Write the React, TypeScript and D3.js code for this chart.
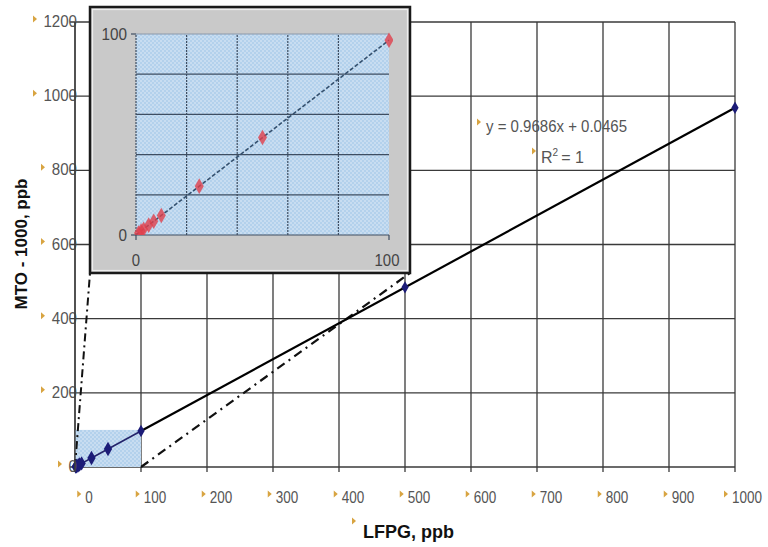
import React from 'react';
import * as d3 from 'd3';

// values
const lfpg = [1, 2, 3, 5, 7, 10, 25, 50, 100, 500, 1000];
const mto = [1.0, 2.0, 2.9, 4.9, 6.8, 9.7, 24.3, 48.5, 96.9, 484.4, 968.6];
const xTicks = [0, 100, 200, 300, 400, 500, 600, 700, 800, 900, 1000];
const yTicks = [0, 200, 400, 600, 800, 1000, 1200];
const insetTicks = [0, 100];
const insetGrid = [20, 40, 60, 80];
const slope = 0.9686;
const intercept = 0.0465;
const zoomBox = [0, 100];

const W = 768;
const H = 547;

const tickFont = '"Liberation Sans", Arial, sans-serif';
const titleFont = '"Liberation Sans", Arial, sans-serif';

function Marker({ x, y }: { x: number; y: number }) {
  return <path d={`M${x},${y - 3.5}L${x + 4},${y}L${x},${y + 3.5}Z`} fill="#d8a441" />;
}

// narrow-ish tick text (reference uses a condensed face)
function Label(props: any) {
  const { children, per = 7.6, ...rest } = props;
  const n = String(children).length;
  return (
    <text {...rest} fontFamily={tickFont} textLength={n * per} lengthAdjust="spacingAndGlyphs">
      {children}
    </text>
  );
}

export default function App() {
  const x = d3.scaleLinear().domain([0, 1000]).range([75, 735]);
  const y = d3.scaleLinear().domain([0, 1200]).range([467, 22]);

  // inset scales
  const xi = d3.scaleLinear().domain([0, 100]).range([136, 389]);
  const yi = d3.scaleLinear().domain([0, 100]).range([235, 34]);
  const box = { x0: 90, y0: 7, x1: 410, y1: 273 };

  const pts = lfpg.map((v, i) => [v, mto[i]] as [number, number]);
  const fit = (v: number) => slope * v + intercept;

  const line = d3.line<[number, number]>().x(d => x(d[0])).y(d => y(d[1]));
  const iline = d3.line<[number, number]>().x(d => xi(d[0])).y(d => yi(d[1]));

  const diamond = d3.symbol().type(d3.symbolDiamond);

  return (
    <svg width={W} height={H} style={{ position: 'fixed', left: 0, top: 0, background: '#fff' }}>
      <defs>
        <pattern id="dots" patternUnits="userSpaceOnUse" width="4" height="4">
          <rect width="4" height="4" fill="#b3d1ec" />
          <circle cx="1" cy="1" r="0.8" fill="#e4eef8" />
          <circle cx="3" cy="3" r="0.8" fill="#e4eef8" />
        </pattern>
        <clipPath id="iclip">
          <rect x={xi(0) - 4} y={yi(100) - 4} width={xi(100) - xi(0) + 8} height={yi(0) - yi(100) + 4} />
        </clipPath>
      </defs>

      {/* grid */}
      {xTicks.map(t => (
        <line key={'gx' + t} x1={x(t)} x2={x(t)} y1={y(1200)} y2={y(0) + 5} stroke="#3a3a3a" strokeWidth={1.3} />
      ))}
      {yTicks.map(t => (
        <line key={'gy' + t} x1={x(0) - 5} x2={x(1000)} y1={y(t)} y2={y(t)} stroke="#3a3a3a" strokeWidth={1.3} />
      ))}

      {/* highlighted zoom region */}
      <rect x={x(zoomBox[0])} y={y(zoomBox[1])} width={x(zoomBox[1]) - x(zoomBox[0])} height={y(zoomBox[0]) - y(zoomBox[1])}
        fill="url(#dots)" />

      {/* dash-dot connectors */}
      <line x1={x(zoomBox[0])} y1={y(0)} x2={box.x0} y2={box.y1} stroke="#111" strokeWidth={2} strokeDasharray="8 4 2 4" />
      <line x1={x(zoomBox[1])} y1={y(0)} x2={box.x1} y2={box.y1} stroke="#111" strokeWidth={2.2} strokeDasharray="9 5 2 5" />

      {/* series + trendline */}
      <path d={line(pts.filter(p => p[0] <= 100)) || ''} fill="none" stroke="#23236a" strokeWidth={1.6} />
      <path d={line([[100, fit(100)], [1000, fit(1000)]]) || ''} fill="none" stroke="#000" strokeWidth={2.2} />
      {pts.map((p, i) => (
        <path key={'p' + i} d={diamond.size(p[0] >= 100 ? 45 : 60)() || ''} transform={`translate(${x(p[0])},${y(p[1])})`} fill="#1c1c78" />
      ))}

      {/* y axis labels */}
      {yTicks.map(t => (
        <g key={'yl' + t}>
          <Marker x={t === 0 ? 58 : t >= 1000 ? 33 : 41} y={y(t) - 3} />
          <Label x={77} y={y(t) + 5} textAnchor="end" fontSize={16} fill="#555" per={8.4}>{t}</Label>
        </g>
      ))}
      {/* x axis labels */}
      {xTicks.map(t => {
        const w = String(t).length * 7.5;
        const cx = Math.min(x(t) + 14, W - w / 2 - 6);
        return (
          <g key={'xl' + t}>
            <Marker x={cx - w / 2 - 8} y={494} />
            <Label x={cx} y={503} textAnchor="middle" fontSize={16} fill="#555" per={7.5}>{t}</Label>
          </g>
        );
      })}

      {/* redraw axis line over labels */}
      <line x1={x(0)} x2={x(0)} y1={y(1200)} y2={y(0) + 5} stroke="#3a3a3a" strokeWidth={1.3} />

      {/* axis titles */}
      <Marker x={352} y={521} />
      <text x={363} y={538} fontFamily={titleFont} fontWeight="bold" fontSize={18} fill="#111">LFPG, ppb</text>
      <text transform={`translate(27,244) rotate(-90)`} textAnchor="middle" fontFamily={titleFont} fontWeight="bold" fontSize={17} fill="#111">
        MTO - 1000, ppb
      </text>

      {/* regression equation */}
      <Marker x={477} y={122} />
      <text x={486} y={132} fontFamily={tickFont} fontSize={16} fill="#555" textLength={141} lengthAdjust="spacingAndGlyphs">
        y = 0.9686x + 0.0465
      </text>
      <Marker x={532} y={151} />
      <text x={541} y={163} fontFamily={tickFont} fontSize={16} fill="#555">
        R<tspan dy={-7} fontSize={10}>2</tspan><tspan dx={3} dy={7}>= 1</tspan>
      </text>

      {/* inset */}
      <rect x={box.x0} y={box.y0} width={box.x1 - box.x0} height={box.y1 - box.y0} fill="#c9c9c9" stroke="#1a1a1a" strokeWidth={2.5} />
      <rect x={box.x0 + 2.5} y={box.y0 + 2.5} width={box.x1 - box.x0 - 5} height={box.y1 - box.y0 - 5} fill="none" stroke="#eeeeee" strokeWidth={1.2} />
      <rect x={xi(0)} y={yi(100)} width={xi(100) - xi(0)} height={yi(0) - yi(100)} fill="url(#dots)" />
      <line x1={xi(0)} x2={xi(100)} y1={yi(100)} y2={yi(100)} stroke="#8a98aa" strokeWidth={1} />
      {insetGrid.map(t => (
        <g key={'ig' + t}>
          <line x1={xi(t)} x2={xi(t)} y1={yi(0)} y2={yi(100)} stroke="#3e4e62" strokeWidth={1.2} strokeDasharray="2 1" />
          <line x1={xi(0)} x2={xi(100)} y1={yi(t)} y2={yi(t)} stroke="#3e4e62" strokeWidth={1.2} />
        </g>
      ))}
      <line x1={xi(0)} x2={xi(0)} y1={yi(0)} y2={yi(100)} stroke="#3e4e62" strokeWidth={1.2} strokeDasharray="2 1" />
      <line x1={xi(0)} x2={xi(100)} y1={yi(0)} y2={yi(0)} stroke="#3e4e62" strokeWidth={1.2} />
      {insetTicks.map(t => (
        <g key={'it' + t}>
          <line x1={xi(0) - 5} x2={xi(0)} y1={yi(t)} y2={yi(t)} stroke="#3e4e62" strokeWidth={1.2} />
          <line x1={xi(t)} x2={xi(t)} y1={yi(0)} y2={yi(0) + 5} stroke="#3e4e62" strokeWidth={1.2} />
          <Label x={xi(0) - 9} y={yi(t) + 6} textAnchor="end" fontSize={17} fill="#444" per={8.5}>{t}</Label>
          <Label x={t === 0 ? xi(t) : xi(t) - 2} y={yi(0) + 31} textAnchor="middle" fontSize={17} fill="#444" per={8.3}>{t}</Label>
        </g>
      ))}
      <g clipPath="url(#iclip)">
        <path d={iline([[0, fit(0)], [100, fit(100)]]) || ''} fill="none" stroke="#34506e" strokeWidth={1.6} strokeDasharray="4 2" />
        {pts.filter(p => p[0] <= 100).map((p, i) => (
          <path key={'ip' + i} d={diamond.size(70)() || ''} transform={`translate(${xi(p[0])},${yi(p[1])})`} fill="#e0404c" opacity={0.8} />
        ))}
      </g>
    </svg>
  );
}
